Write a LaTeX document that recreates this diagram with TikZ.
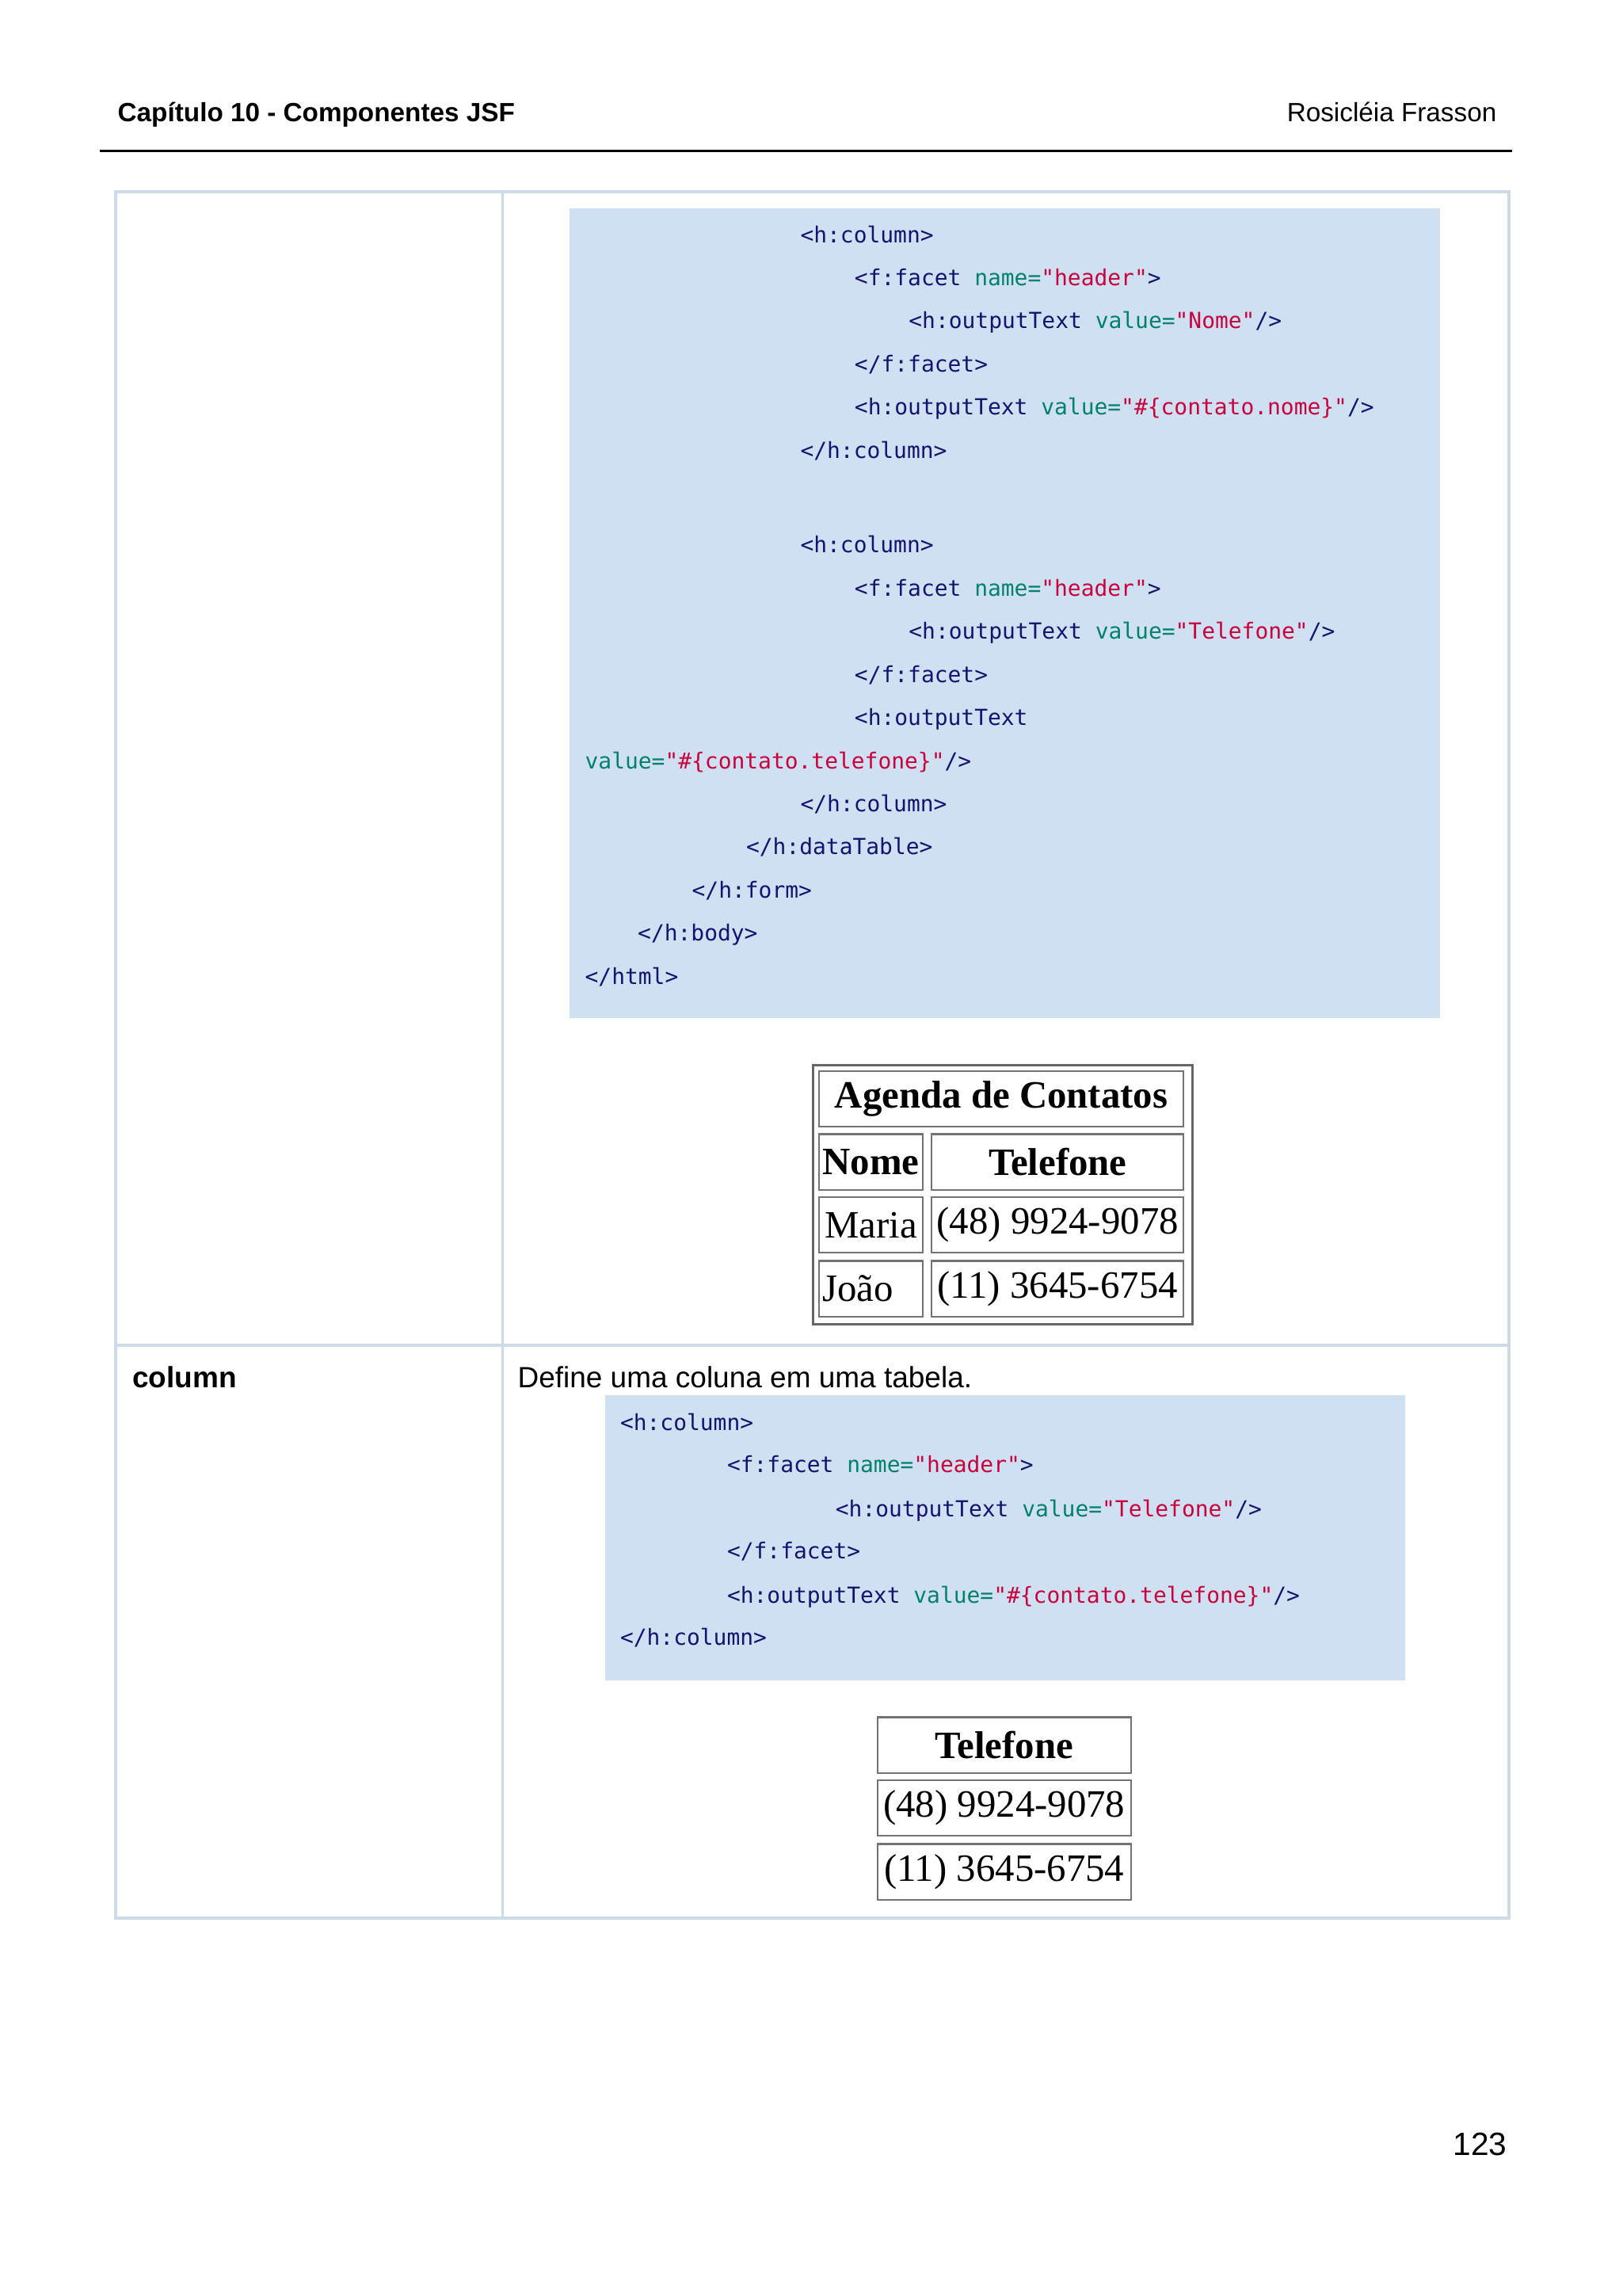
\documentclass[tikz,border=0pt]{standalone}
\usepackage{fontspec}
\setmainfont{Liberation Sans}
\newfontfamily\codefont{DejaVu Sans Mono}
\newfontfamily\htmlfont{Liberation Serif}
\definecolor{codebg}{RGB}{207,224,242}
\definecolor{tagc}{RGB}{20,20,110}
\definecolor{attc}{RGB}{0,128,110}
\definecolor{valc}{RGB}{200,0,60}
\definecolor{gridc}{RGB}{205,218,232}
\newcommand{\tg}[1]{\textcolor{tagc}{#1}}
\newcommand{\at}[1]{\textcolor{attc}{#1}}
\newcommand{\vl}[1]{\textcolor{valc}{#1}}
\tikzset{
 code/.style={anchor=base west,inner sep=0,font=\codefont\fontsize{7.55}{9}\selectfont},
 hdr/.style={anchor=base west,inner sep=0,font=\fontsize{9}{11}\selectfont},
 cell/.style={draw=black!55,line width=0.6pt,inner sep=0,font=\htmlfont\fontsize{13.2}{15}\selectfont},
 bcell/.style={cell,font=\htmlfont\bfseries\fontsize{13.2}{15}\selectfont},
}
\begin{document}
\begin{tikzpicture}[x=0.5pt,y=-0.5pt]
\useasboundingbox (0,0) rectangle (1107.5,1567);
\fill[white] (0,0) rectangle (1107.5,1567);
% header
\node[hdr,font=\bfseries\fontsize{9}{11}\selectfont] (h1) at (80,83) {Capítulo 10 - Componentes JSF};
\node[hdr,anchor=base east] (h2) at (1022,83) {Rosicléia Frasson};
\draw[line width=1pt] (68,103) coordinate (l1) -- (1032,103) coordinate (l2);
% table grid
\draw[gridc,line width=1pt] (79,131) rectangle (1030,1309);
\draw[gridc,line width=1pt] (343,131) -- (343,1309);
\draw[gridc,line width=1pt] (79,918) -- (1030,918);
% code block 1
\fill[codebg] (389,142) rectangle (983,695);
\node[code] (c1) at (546,166) {\tg{<h:column>}};
\node[code] (c2) at (583,195) {\tg{<f:facet} \at{name=}\vl{"header"}\tg{>}};
\node[code] (c3) at (620,224) {\tg{<h:outputText} \at{value=}\vl{"Nome"}\tg{/>}};
\node[code] (c4) at (583,254) {\tg{</f:facet>}};
\node[code] (c5) at (583,283) {\tg{<h:outputText} \at{value=}\vl{"\#\{contato.nome\}"}\tg{/>}};
\node[code] (c6) at (546,313) {\tg{</h:column>}};
\node[code] (c7) at (546,377) {\tg{<h:column>}};
\node[code] (c8) at (583,407) {\tg{<f:facet} \at{name=}\vl{"header"}\tg{>}};
\node[code] (c9) at (620,436) {\tg{<h:outputText} \at{value=}\vl{"Telefone"}\tg{/>}};
\node[code] (c10) at (583,466) {\tg{</f:facet>}};
\node[code] (c11) at (583,495) {\tg{<h:outputText}};
\node[code] (c12) at (399,525) {\at{value=}\vl{"\#\{contato.telefone\}"}\tg{/>}};
\node[code] (c13) at (546,554) {\tg{</h:column>}};
\node[code] (c14) at (509,583) {\tg{</h:dataTable>}};
\node[code] (c15) at (472,613) {\tg{</h:form>}};
\node[code] (c16) at (435,642) {\tg{</h:body>}};
\node[code] (c17) at (399,672) {\tg{</html>}};
% html table 1
\draw[black!60,line width=0.8pt] (555,727) rectangle (814,904);
\node[bcell,minimum width=249*0.5pt,minimum height=38*0.5pt] (t1) at (683.5,750) {Agenda de Contatos};
\node[bcell,minimum width=71*0.5pt,minimum height=38*0.5pt] (t2) at (594.5,793) {Nome};
\node[bcell,minimum width=172*0.5pt,minimum height=38*0.5pt] (t3) at (722,793) {Telefone};
\node[cell,minimum width=71*0.5pt,minimum height=38*0.5pt] (t4) at (594.5,836) {Maria};
\node[cell,minimum width=172*0.5pt,minimum height=38*0.5pt] (t5) at (722,836) {(48) 9924-9078};
\node[cell,minimum width=71*0.5pt,minimum height=38*0.5pt,text width=66*0.5pt,align=left] (t6) at (594.5,879.5) {João};
\node[cell,minimum width=172*0.5pt,minimum height=38*0.5pt] (t7) at (722,879.5) {(11) 3645-6754};
% row 2
\node[hdr,font=\bfseries\fontsize{10}{12}\selectfont] (col) at (90,947) {column};
\node[hdr,font=\fontsize{10}{12}\selectfont] (def) at (353,947) {Define uma coluna em uma tabela.};
\fill[codebg] (413,952) rectangle (959,1147);
\node[code] (d1) at (423,976) {\tg{<h:column>}};
\node[code] (d2) at (496,1005) {\tg{<f:facet} \at{name=}\vl{"header"}\tg{>}};
\node[code] (d3) at (570,1035) {\tg{<h:outputText} \at{value=}\vl{"Telefone"}\tg{/>}};
\node[code] (d4) at (496,1064) {\tg{</f:facet>}};
\node[code] (d5) at (496,1094) {\tg{<h:outputText} \at{value=}\vl{"\#\{contato.telefone\}"}\tg{/>}};
\node[code] (d6) at (423,1123) {\tg{</h:column>}};
% html table 2
\node[bcell,minimum width=173*0.5pt,minimum height=38*0.5pt] (u1) at (685.5,1191) {Telefone};
\node[cell,minimum width=173*0.5pt,minimum height=38*0.5pt] (u2) at (685.5,1234) {(48) 9924-9078};
\node[cell,minimum width=173*0.5pt,minimum height=38*0.5pt] (u3) at (685.5,1277.5) {(11) 3645-6754};
% page number
\node[hdr,anchor=base east,font=\fontsize{11}{13}\selectfont] (pg) at (1029,1471) {123};
\end{tikzpicture}
\end{document}
